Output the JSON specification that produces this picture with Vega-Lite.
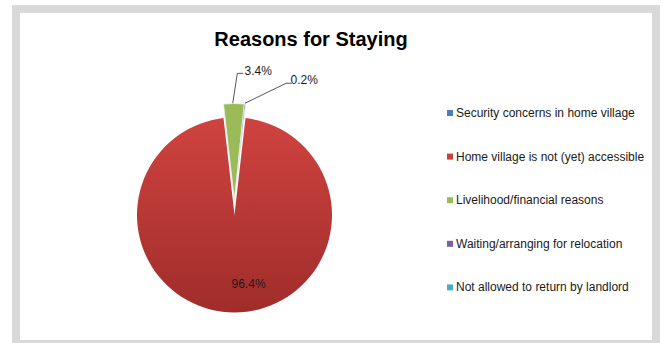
{
  "$schema": "https://vega.github.io/schema/vega-lite/v6.json",
  "width": 640,
  "height": 335,
  "autosize": {"type": "none"},
  "padding": {"left": 16, "top": 9, "right": 7, "bottom": 0},
  "background": "white",
  "config": {
    "view": {"fill": "white", "stroke": "#d9d9d9", "strokeWidth": 8},
    "font": "Liberation Sans"
  },
  "title": {
    "text": "Reasons for Staying",
    "frame": "group",
    "anchor": "middle",
    "orient": "top",
    "offset": -57,
    "baseline": "alphabetic",
    "dx": -25,
    "fontSize": 20,
    "fontWeight": "bold",
    "font": "Liberation Sans",
    "color": "#000000"
  },
  "datasets": {
    "slices": [
      {"reason": "Security concerns in home village", "pct": 0},
      {"reason": "Home village is not (yet) accessible", "pct": 96.4},
      {"reason": "Livelihood/financial reasons", "pct": 3.4},
      {"reason": "Waiting/arranging for relocation", "pct": 0.2},
      {"reason": "Not allowed to return by landlord", "pct": 0}
    ],
    "leaders": [
      {"label": "3.4%", "px": -0.018, "py": 1.146, "step": 1},
      {"label": "3.4%", "px": 0.029, "py": 1.453, "step": 2},
      {"label": "3.4%", "px": 0.09, "py": 1.453, "step": 3},
      {"label": "0.2%", "px": 0.108, "py": 1.146, "step": 1},
      {"label": "0.2%", "px": 0.528, "py": 1.351, "step": 2},
      {"label": "0.2%", "px": 0.587, "py": 1.351, "step": 3}
    ],
    "labels": [
      {"label": "3.4%", "px": 0.243, "py": 1.472},
      {"label": "0.2%", "px": 0.715, "py": 1.38},
      {"label": "96.4%", "px": 0.144, "py": -0.708}
    ]
  },
  "layer": [
    {
      "data": {"name": "slices"},
      "transform": [
        {"stack": "pct", "groupby": [], "sort": [{"field": "reason", "order": "ascending"}], "as": ["a0", "a1"]},
        {"filter": "datum.reason === 'Home village is not (yet) accessible'"}
      ],
      "mark": {
        "type": "arc",
        "outerRadius": 97.5,
        "color": {
          "gradient": "linear",
          "x1": 0, "y1": 0, "x2": 0, "y2": 1,
          "stops": [
            {"offset": 0, "color": "#cf433f"},
            {"offset": 1, "color": "#a02d2b"}
          ]
        }
      },
      "encoding": {
        "theta": {"field": "a0", "type": "quantitative", "scale": {"domain": [0, 100], "range": [0.1131, 6.3963]}},
        "theta2": {"field": "a1"},
        "x": {"datum": 0, "type": "quantitative", "scale": {"domain": [-2.241, 4.3231], "nice": false, "zero": false}, "axis": null},
        "y": {"datum": 0, "type": "quantitative", "scale": {"domain": [-1.3231, 2.1128], "nice": false, "zero": false}, "axis": null}
      }
    },
    {
      "data": {"name": "slices"},
      "transform": [
        {"stack": "pct", "groupby": [], "sort": [{"field": "reason", "order": "ascending"}], "as": ["a0", "a1"]},
        {"filter": "datum.reason !== 'Home village is not (yet) accessible' && datum.pct > 0"}
      ],
      "mark": {"type": "arc", "outerRadius": 97.5, "yOffset": -14, "stroke": "#f2f2f2", "strokeWidth": 0.8},
      "encoding": {
        "theta": {"field": "a0", "type": "quantitative", "scale": {"domain": [0, 100], "range": [0.1131, 6.3963]}},
        "theta2": {"field": "a1"},
        "x": {"datum": 0, "type": "quantitative", "scale": {"domain": [-2.241, 4.3231], "nice": false, "zero": false}, "axis": null},
        "y": {"datum": 0, "type": "quantitative", "scale": {"domain": [-1.3231, 2.1128], "nice": false, "zero": false}, "axis": null},
        "color": {
          "field": "reason",
          "type": "nominal",
          "scale": {
            "domain": [
              "Security concerns in home village",
              "Home village is not (yet) accessible",
              "Livelihood/financial reasons",
              "Waiting/arranging for relocation",
              "Not allowed to return by landlord"
            ],
            "range": ["#4a7ebb", "#c9403c", "#9bbb59", "#7d5fa6", "#4bacc6"]
          },
          "legend": {
            "title": null,
            "orient": "none",
            "legendX": 428,
            "legendY": 98,
            "padding": 0,
            "symbolType": "square",
            "symbolSize": 36,
            "symbolStrokeWidth": 0,
            "labelFontSize": 12,
            "labelFont": "Liberation Sans",
            "labelColor": "#1a1a1a",
            "labelOffset": 0,
            "rowPadding": 31.6,
            "labelLimit": 300
          }
        }
      }
    },
    {
      "data": {"name": "leaders"},
      "mark": {"type": "line", "color": "#595959", "strokeWidth": 1},
      "encoding": {
        "x": {"field": "px", "type": "quantitative", "scale": {"domain": [-2.241, 4.3231], "nice": false, "zero": false}, "axis": null},
        "y": {"field": "py", "type": "quantitative", "scale": {"domain": [-1.3231, 2.1128], "nice": false, "zero": false}, "axis": null},
        "detail": {"field": "label"},
        "order": {"field": "step"}
      }
    },
    {
      "data": {"name": "labels"},
      "mark": {"type": "text", "fontSize": 12, "font": "Liberation Sans", "color": "#1a1a1a", "baseline": "middle", "align": "center"},
      "encoding": {
        "x": {"field": "px", "type": "quantitative", "scale": {"domain": [-2.241, 4.3231], "nice": false, "zero": false}, "axis": null},
        "y": {"field": "py", "type": "quantitative", "scale": {"domain": [-1.3231, 2.1128], "nice": false, "zero": false}, "axis": null},
        "text": {"field": "label"}
      }
    }
  ]
}
